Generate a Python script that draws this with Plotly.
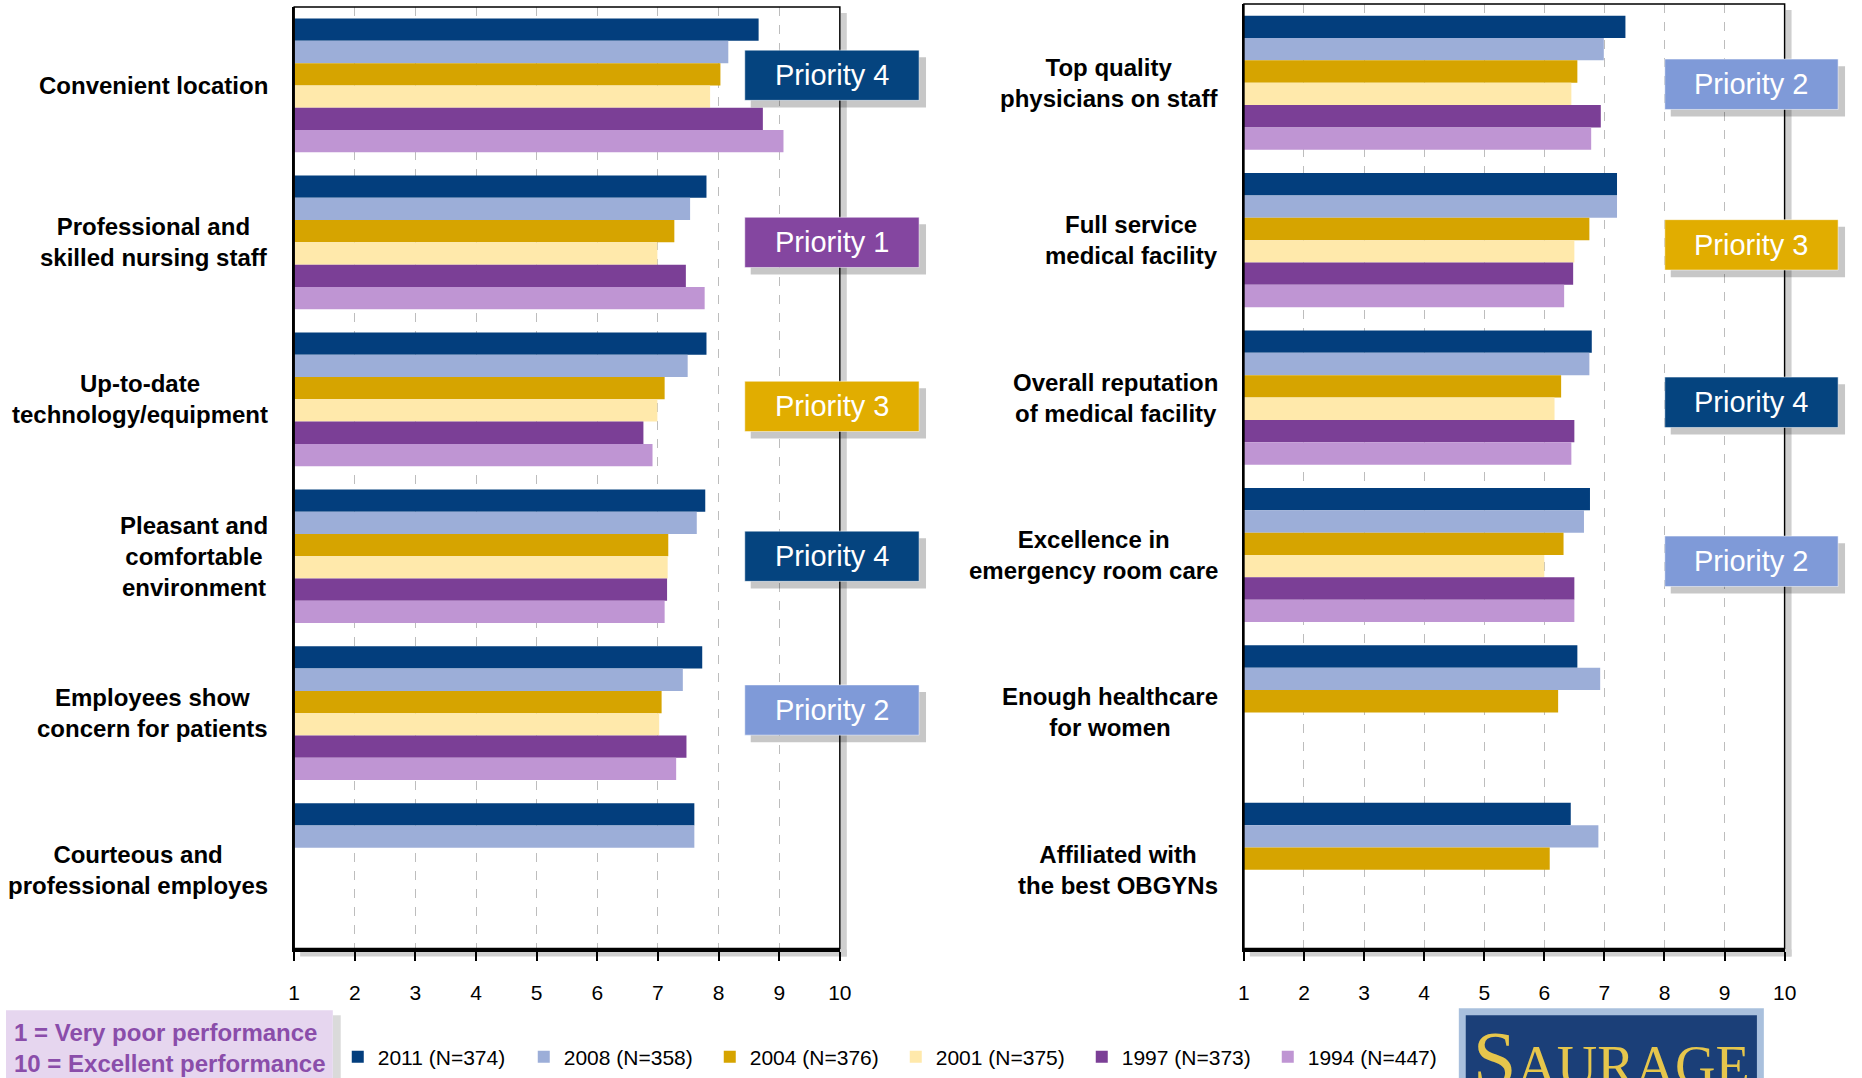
import plotly.graph_objects as go

# reference canvas size; everything is placed in paper fractions of it
W, H = 1862, 1078

years = ["2011 (N=374)", "2008 (N=358)", "2004 (N=376)",
         "2001 (N=375)", "1997 (N=373)", "1994 (N=447)"]
colors = ["#033E7D", "#9CAED8", "#D6A400", "#FFE9AB", "#7B3F96", "#BF95D3"]

left_categories = ["Convenient location",
                   "Professional and<br>skilled nursing staff",
                   "Up-to-date<br>technology/equipment",
                   "Pleasant and<br>comfortable<br>environment",
                   "Employees show<br>concern for patients",
                   "Courteous and<br>professional employes"]
right_categories = ["Top quality<br>physicians on staff",
                    "Full service<br>medical facility",
                    "Overall reputation<br>of medical facility",
                    "Excellence in<br>emergency room care",
                    "Enough healthcare<br>for women",
                    "Affiliated with<br>the best OBGYNs"]

# scores per year (1 = very poor, 10 = excellent)
left_2011 = [8.66, 7.80, 7.80, 7.78, 7.73, 7.60]
left_2008 = [8.16, 7.53, 7.49, 7.64, 7.41, 7.60]
left_2004 = [8.03, 7.27, 7.11, 7.17, 7.06, None]
left_2001 = [7.86, 6.99, 6.99, 7.16, 7.02, None]
left_1997 = [8.73, 7.46, 6.76, 7.15, 7.47, None]
left_1994 = [9.07, 7.77, 6.91, 7.11, 7.30, None]

right_2011 = [7.35, 7.21, 6.79, 6.76, 6.55, 6.44]
right_2008 = [6.99, 7.21, 6.75, 6.66, 6.93, 6.90]
right_2004 = [6.55, 6.75, 6.28, 6.32, 6.23, 6.09]
right_2001 = [6.45, 6.50, 6.17, 6.00, None, None]
right_1997 = [6.94, 6.48, 6.50, 6.50, None, None]
right_1994 = [6.78, 6.33, 6.45, 6.50, None, None]

left_priority = ["Priority 4", "Priority 1", "Priority 3", "Priority 4", "Priority 2", None]
right_priority = ["Priority 2", "Priority 3", "Priority 4", "Priority 2", None, None]
priority_colors = {"Priority 1": "#8446A0", "Priority 2": "#7F9AD8",
                   "Priority 3": "#E1AD00", "Priority 4": "#05447F"}

tick_vals = list(range(1, 11))

left_series = [left_2011, left_2008, left_2004, left_2001, left_1997, left_1994]
right_series = [right_2011, right_2008, right_2004, right_2001, right_1997, right_1994]


def px(x):
    return x / W


def py(y):
    return 1 - y / H


FONT = "Liberation Sans, Arial, sans-serif"

fig = go.Figure()
for name, col, lv, rv in zip(years, colors, left_series, right_series):
    fig.add_trace(go.Bar(y=left_categories, x=lv, orientation="h", name=name,
                         marker=dict(color=col, line=dict(width=0)),
                         legendgroup=name, xaxis="x", yaxis="y"))
    fig.add_trace(go.Bar(y=right_categories, x=rv, orientation="h", name=name,
                         marker=dict(color=col, line=dict(width=0)),
                         legendgroup=name, showlegend=False,
                         xaxis="x2", yaxis="y2"))

# plot frames (pixels of the reference canvas)
L1, R1, T1, B1 = 291, 842, 7, 953
L2, R2, T2, B2 = 1250, 1796, 4, 953

xaxis_common = dict(range=[1, 10], tickvals=tick_vals, showgrid=True,
                    gridcolor="#BDBDBD", griddash="dash", gridwidth=1,
                    showline=True, linecolor="black", linewidth=3,
                    ticks="outside", ticklen=9, tickwidth=1.5, tickcolor="black",
                    ticklabelstandoff=14, zeroline=False,
                    tickfont=dict(family=FONT, size=21, color="black"))
yaxis_common = dict(range=[5.5, -0.5], showticklabels=False, showgrid=False,
                    showline=True, linecolor="black", linewidth=2, ticks="",
                    zeroline=False)

fig.update_layout(
    margin=dict(l=0, r=0, t=0, b=0),
    paper_bgcolor="white", plot_bgcolor="white",
    barmode="group", bargap=0.148, bargroupgap=0,
    font=dict(family=FONT, color="black"),
    xaxis=dict(domain=[px(L1), px(R1)], anchor="y", **xaxis_common),
    yaxis=dict(domain=[py(B1), py(T1)], anchor="x", **yaxis_common),
    xaxis2=dict(domain=[px(L2), px(R2)], anchor="y2", **xaxis_common),
    yaxis2=dict(domain=[py(B2), py(T2)], anchor="x2", **yaxis_common),
    legend=dict(orientation="h", x=px(335), y=py(1062), xanchor="left",
                yanchor="middle", entrywidth=141, traceorder="normal",
                font=dict(family=FONT, size=21, color="black"),
                bgcolor="rgba(0,0,0,0)"),
)

shapes = []
annotations = []

# frame shadows (right and bottom strips) and borders
for (l, r, t, b) in [(L1, R1, T1, B1), (L2, R2, T2, B2)]:
    shapes.append(dict(type="rect", xref="paper", yref="paper",
                       x0=px(r + 1), x1=px(r + 7), y0=py(b + 8), y1=py(t + 6),
                       fillcolor="#CFCFCF", line=dict(width=0), layer="below"))
    shapes.append(dict(type="rect", xref="paper", yref="paper",
                       x0=px(l + 6), x1=px(r + 7), y0=py(b + 8), y1=py(b + 1),
                       fillcolor="#CFCFCF", line=dict(width=0), layer="below"))
    shapes.append(dict(type="rect", xref="paper", yref="paper",
                       x0=px(l), x1=px(r), y0=py(b), y1=py(t),
                       line=dict(color="black", width=1.5), layer="above"))

# category labels
for cats, yref, xr in [(left_categories, "y", 267), (right_categories, "y2", 1226)]:
    for c in cats:
        annotations.append(dict(text="<b>" + c + "</b>", x=px(xr), y=c,
                                xref="paper", yref=yref, xanchor="right",
                                yanchor="middle", align="center", showarrow=False,
                                font=dict(family=FONT, size=24, color="black")))

# priority boxes
box_h = 0.16
left_nudge = [-0.065, 0.0, 0.045, 0.0, -0.02, 0.0]
right_nudge = [0.01, 0.03, 0.03, 0.04, 0.0, 0.0]
for pri, nudge, yref, x0, x1 in [(left_priority, left_nudge, "y", 746, 922),
                                 (right_priority, right_nudge, "y2", 1675, 1850)]:
    for i, p in enumerate(pri):
        if p is None:
            continue
        yc = i + nudge[i]
        shapes.append(dict(type="rect", xref="paper", yref=yref,
                           x0=px(x0 + 6), x1=px(x1 + 7), y0=yc - box_h + 0.045, y1=yc + box_h + 0.045,
                           fillcolor="rgba(0,0,0,0.22)", line=dict(width=0), layer="above"))
        shapes.append(dict(type="rect", xref="paper", yref=yref,
                           x0=px(x0), x1=px(x1), y0=yc - box_h, y1=yc + box_h,
                           fillcolor=priority_colors[p],
                           line=dict(color="rgba(255,255,255,0.5)", width=1), layer="above"))
        annotations.append(dict(text=p, x=px((x0 + x1) / 2), y=yc, xref="paper",
                                yref=yref, xanchor="center", yanchor="middle",
                                showarrow=False,
                                font=dict(family=FONT, size=29, color="white")))

# scale note box
shapes.append(dict(type="rect", xref="paper", yref="paper",
                   x0=px(330), x1=px(338), y0=py(1090), y1=py(1020),
                   fillcolor="#DADADA", line=dict(width=0)))
shapes.append(dict(type="rect", xref="paper", yref="paper",
                   x0=0, x1=px(330), y0=py(1090), y1=py(1015),
                   fillcolor="#E6D6EF", line=dict(width=0)))
annotations.append(dict(text="<b>1 = Very poor performance</b>", x=px(6), y=py(1037),
                        xref="paper", yref="paper", xanchor="left", yanchor="middle",
                        showarrow=False, font=dict(family=FONT, size=24, color="#8A4DAA")))
annotations.append(dict(text="<b>10 = Excellent performance</b>", x=px(6), y=py(1068),
                        xref="paper", yref="paper", xanchor="left", yanchor="middle",
                        showarrow=False, font=dict(family=FONT, size=24, color="#8A4DAA")))

# logo
shapes.append(dict(type="rect", xref="paper", yref="paper",
                   x0=px(1467), x1=px(1775), y0=py(1095), y1=py(1013),
                   fillcolor="#A9C0DD", line=dict(width=0)))
shapes.append(dict(type="rect", xref="paper", yref="paper",
                   x0=px(1474), x1=px(1768), y0=py(1095), y1=py(1020),
                   fillcolor="#1B3F78", line=dict(width=0)))
annotations.append(dict(text="S<span style='font-size:56px'>AURAGE</span>",
                        x=px(1621), y=py(1018), xref="paper", yref="paper",
                        xanchor="center", yanchor="top", showarrow=False,
                        font=dict(family="Liberation Serif, serif", size=78, color="#E6C64C")))

fig.update_layout(shapes=shapes, annotations=annotations)

page_css = ("document.body.style.margin = '0';"
            "document.body.style.overflow = 'hidden';"
            "document.documentElement.style.overflow = 'hidden';")
fig.write_html("out.html", default_width="100vw", default_height="100vh",
               config={"displayModeBar": False, "responsive": True},
               post_script=page_css)
